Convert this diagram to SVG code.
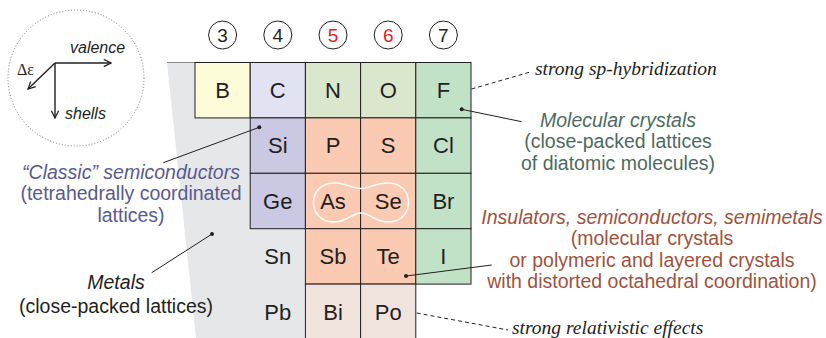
<svg xmlns="http://www.w3.org/2000/svg" width="826" height="338" viewBox="0 0 826 338">
<defs>
<style>
.cell{stroke:#231f20;stroke-width:1}
.el{font-family:"Liberation Sans",Arial,sans-serif;font-size:22px;fill:#231f20;text-anchor:middle}
.num{font-family:"Liberation Sans",Arial,sans-serif;font-size:19px;text-anchor:middle}
.ring{fill:#fff;stroke:#231f20;stroke-width:1}
.lbl{font-family:"Liberation Sans",Arial,sans-serif;font-size:19.5px;text-anchor:middle}
.it{font-style:italic}
.note{font-family:"Liberation Serif","Times New Roman",serif;font-style:italic;font-size:19.5px;fill:#231f20}
.ax{font-family:"Liberation Sans",Arial,sans-serif;font-style:italic;font-size:16px;fill:#231f20}
.ln{stroke:#231f20;stroke-width:1;fill:none}
.dash{stroke:#231f20;stroke-width:1;fill:none;stroke-dasharray:4,3}
.dot{fill:#231f20}
.yel{fill:#fdfcd8}.lav{fill:#e2e3f2}.lg{fill:#dbe7cc}.gr{fill:#c2e2c8}.pu{fill:#cbc8e3}.sa{fill:#fbcab2}.pk{fill:#f1e3de}
</style>
<marker id="arr" viewBox="0 0 10 10" refX="9" refY="5" markerWidth="9" markerHeight="9" markerUnits="userSpaceOnUse" orient="auto">
<path d="M1,1 L9,5 L1,9" fill="none" stroke="#231f20" stroke-width="1.4"/>
</marker>
</defs>
<rect width="826" height="338" fill="#fff"/>

<g id="axes-legend">
<circle cx="76" cy="78" r="68" fill="none" stroke="#777" stroke-width="1" stroke-dasharray="1,2"/>
<line x1="55" y1="63" x2="111" y2="63" stroke="#231f20" stroke-width="1.4" marker-end="url(#arr)"/>
<line x1="55" y1="63" x2="55" y2="118" stroke="#231f20" stroke-width="1.4" marker-end="url(#arr)"/>
<line x1="55" y1="63" x2="28" y2="89" stroke="#231f20" stroke-width="1.4" marker-end="url(#arr)"/>
<text class="ax" x="70" y="53">valence</text>
<text class="ax" x="65" y="119">shells</text>
<text x="17" y="75" font-family="Liberation Serif,serif" font-size="16" fill="#231f20">Δε</text>
</g>

<g id="metal-background">
<polygon points="167,62.5 305.4,62.5 305.4,338 196,338" fill="#e6e7e9"/>
<line x1="167" y1="62.5" x2="195" y2="62.5" stroke="#8a8a8a" stroke-width="1"/>
</g>

<g id="group-numbers">
<g id="g3"><circle class="ring" cx="222.6" cy="35" r="14"/><text class="num" x="222.6" y="42" fill="#231f20">3</text></g>
<g id="g4"><circle class="ring" cx="277.8" cy="35" r="14"/><text class="num" x="277.8" y="42" fill="#231f20">4</text></g>
<g id="g5"><circle class="ring" cx="333" cy="35" r="14"/><text class="num" x="333" y="42" fill="#e31e24">5</text></g>
<g id="g6"><circle class="ring" cx="388.2" cy="35" r="14"/><text class="num" x="388.2" y="42" fill="#e31e24">6</text></g>
<g id="g7"><circle class="ring" cx="443.4" cy="35" r="14"/><text class="num" x="443.4" y="42" fill="#231f20">7</text></g>
</g>

<g id="cells">
<g id="B"><rect class="cell yel" x="195" y="62.5" width="55.2" height="55.4"/><text class="el" x="222.6" y="98">B</text></g>
<g id="C"><rect class="cell lav" x="250.2" y="62.5" width="55.2" height="55.4"/><text class="el" x="277.8" y="98">C</text></g>
<g id="N"><rect class="cell lg" x="305.4" y="62.5" width="55.2" height="55.4"/><text class="el" x="333" y="98">N</text></g>
<g id="O"><rect class="cell lg" x="360.6" y="62.5" width="55.2" height="55.4"/><text class="el" x="388.2" y="98">O</text></g>
<g id="F"><rect class="cell gr" x="415.8" y="62.5" width="55.2" height="55.4"/><text class="el" x="443.4" y="98">F</text></g>

<g id="Si"><rect class="cell pu" x="250.2" y="117.9" width="55.2" height="55.4"/><text class="el" x="277.8" y="153.4">Si</text></g>
<g id="P"><rect class="cell sa" x="305.4" y="117.9" width="55.2" height="55.4"/><text class="el" x="333" y="153.4">P</text></g>
<g id="S"><rect class="cell sa" x="360.6" y="117.9" width="55.2" height="55.4"/><text class="el" x="388.2" y="153.4">S</text></g>
<g id="Cl"><rect class="cell gr" x="415.8" y="117.9" width="55.2" height="55.4"/><text class="el" x="443.4" y="153.4">Cl</text></g>

<g id="Ge"><rect class="cell pu" x="250.2" y="173.3" width="55.2" height="55.4"/><text class="el" x="277.8" y="208.8">Ge</text></g>
<g id="As"><rect class="cell sa" x="305.4" y="173.3" width="55.2" height="55.4"/><text class="el" x="333" y="208.8">As</text></g>
<g id="Se"><rect class="cell sa" x="360.6" y="173.3" width="55.2" height="55.4"/><text class="el" x="388.2" y="208.8">Se</text></g>
<g id="Br"><rect class="cell gr" x="415.8" y="173.3" width="55.2" height="55.4"/><text class="el" x="443.4" y="208.8">Br</text></g>

<g id="Sn"><text class="el" x="277.8" y="264.2">Sn</text></g>
<g id="Sb"><rect class="cell sa" x="305.4" y="228.7" width="55.2" height="55.4"/><text class="el" x="333" y="264.2">Sb</text></g>
<g id="Te"><rect class="cell sa" x="360.6" y="228.7" width="55.2" height="55.4"/><text class="el" x="388.2" y="264.2">Te</text></g>
<g id="I"><rect class="cell gr" x="415.8" y="228.7" width="55.2" height="55.4"/><text class="el" x="443.4" y="264.2">I</text></g>

<g id="Pb"><text class="el" x="277.8" y="319.6">Pb</text></g>
<g id="Bi"><rect class="cell pk" x="305.4" y="284.1" width="55.2" height="55.4"/><text class="el" x="333" y="319.6">Bi</text></g>
<g id="Po"><rect class="cell pk" x="360.6" y="284.1" width="55.2" height="55.4"/><text class="el" x="388.2" y="319.6">Po</text></g>
</g>

<g id="AsSe-pair">
<path d="M361,188.5 C370,188.5 375,183 388,183 C401,183 408.5,192 408.5,202.5 C408.5,213 401,222 388,222 C375,222 370,213 361,213 C352,213 347,222 334,222 C321,222 313.5,213 313.5,202.5 C313.5,192 321,183 334,183 C347,183 352,188.5 361,188.5 Z" fill="none" stroke="#fff" stroke-width="1.5"/>
</g>

<g id="connectors">
<line class="dash" x1="471.5" y1="89" x2="532" y2="71.5"/>
<circle class="dot" cx="461.7" cy="109.3" r="2"/>
<line class="ln" x1="461.7" y1="109.3" x2="521.7" y2="121.7"/>
<circle class="dot" cx="259.3" cy="127.3" r="2"/>
<line class="ln" x1="259.3" y1="127.3" x2="163.3" y2="162.7"/>
<circle class="dot" cx="212" cy="234" r="2"/>
<line class="ln" x1="212" y1="234" x2="151.7" y2="272.7"/>
<circle class="dot" cx="406" cy="276" r="2"/>
<line class="ln" x1="406" y1="276" x2="491.7" y2="265"/>
<line class="dash" x1="416.7" y1="313" x2="508" y2="330"/>
</g>

<g id="labels">
<text class="note" x="535" y="74.5">strong sp-hybridization</text>
<text class="lbl" fill="#4e6b5e"><tspan class="it" x="618" y="126.5">Molecular crystals</tspan><tspan x="618" y="148">(close-packed lattices</tspan><tspan x="618" y="169.5">of diatomic molecules)</tspan></text>
<text class="lbl" fill="#5a5a8e"><tspan class="it" x="131" y="178.5">“Classic” semiconductors</tspan><tspan x="131" y="200">(tetrahedrally coordinated</tspan><tspan x="131" y="221.5">lattices)</tspan></text>
<text class="lbl" fill="#231f20"><tspan class="it" x="116" y="288.5">Metals</tspan><tspan x="116" y="312.5">(close-packed lattices)</tspan></text>
<text class="lbl" fill="#a0523d"><tspan class="it" x="652" y="223.5">Insulators, semiconductors, semimetals</tspan><tspan x="652" y="245">(molecular crystals</tspan><tspan x="652" y="266.5">or polymeric and layered crystals</tspan><tspan x="652" y="288">with distorted octahedral coordination)</tspan></text>
<text class="note" x="512" y="334">strong relativistic effects</text>
</g>
</svg>
